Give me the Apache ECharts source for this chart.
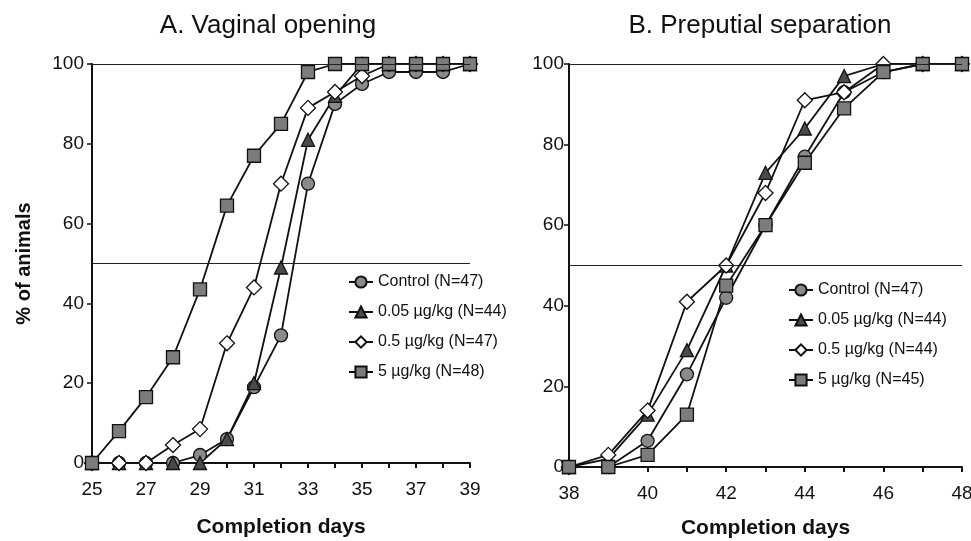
<!DOCTYPE html>
<html>
<head>
<meta charset="utf-8">
<script src="https://cdn.jsdelivr.net/npm/echarts@6/dist/echarts.min.js"></script>
<style>html,body{margin:0;padding:0;background:#fff}#c{width:971px;height:541px}</style>
</head>
<body>
<div id="c"></div>
<script>
// Panel A: Vaginal opening
var daysA = [25,26,27,28,29,30,31,32,33,34,35,36,37,38,39];
var ctrlA = [0,0,0,0,2,6,19,32,70,90,95,98,98,98,100];
var low005A = [0,0,0,0,0,6,20,49,81,92,100,100,100,100,100];
var mid05A = [0,0,0,4.5,8.5,30,44,70,89,93,97,100,100,100,100];
var high5A = [0,8,16.5,26.5,43.5,64.5,77,85,98,100,100,100,100,100,100];
var namesA = ["Control (N=47)","0.05 µg/kg (N=44)","0.5 µg/kg (N=47)","5 µg/kg (N=48)"];

// Panel B: Preputial separation
var daysB = [38,39,40,41,42,43,44,45,46,47,48];
var ctrlB = [0,0,6.5,23,42,60,77,93,98,100,100];
var low005B = [0,2,13,29,50,73,84,97,100,100,100];
var mid05B = [0,3,14,41,50,68,91,93,100,100,100];
var high5B = [0,0,3,13,45,60,75.5,89,98,100,100];
var namesB = ["Control (N=47)","0.05 µg/kg (N=44)","0.5 µg/kg (N=44)","5 µg/kg (N=45)"];

var yTicks = [0,20,40,60,80,100];
var titles = ["A. Vaginal opening","B. Preputial separation"];
var xName = "Completion days";
var yName = "% of animals";

var FONT = "Liberation Sans, Arial, sans-serif";
var styles = [
  {symbol:'circle', symbolSize:13, color:'#8a8a8a'},
  {symbol:'triangle', symbolSize:13, color:'#4a4a4a'},
  {symbol:'diamond', symbolSize:15, color:'#ffffff'},
  {symbol:'rect', symbolSize:13, color:'#7c7c7c'}
];
function pairs(xs, ys){ return xs.map(function(x,i){return [x, ys[i]];}); }
function mkSeries(name, xs, ys, st, idx, withRef){
  var s = {
    name: name, type:'line', xAxisIndex: idx, yAxisIndex: idx,
    data: pairs(xs, ys), symbol: st.symbol, symbolSize: st.symbolSize,
    showAllSymbol: true, animation:false,
    lineStyle:{color:'#111', width:1.8},
    itemStyle:{color: st.color, borderColor:'#111', borderWidth:1.3}
  };
  if (withRef) {
    s.markLine = {silent:true, symbol:['none','none'], animation:false,
      label:{show:false},
      lineStyle:{color:'#222', width:1.2, type:'solid'},
      data:[{yAxis:50},{yAxis:100}]};
  }
  return s;
}
var series = [];
[ctrlA, low005A, mid05A, high5A].forEach(function(d,i){ series.push(mkSeries(namesA[i], daysA, d, styles[i], 0, i===0)); });
[ctrlB, low005B, mid05B, high5B].forEach(function(d,i){ series.push(mkSeries(namesB[i], daysB, d, styles[i], 1, i===0)); });

function xAxis(idx, mn, mx, gap){
  return {type:'value', gridIndex: idx, min: mn, max: mx, interval:1,
    name: xName, nameLocation:'middle', nameGap: gap,
    nameTextStyle:{fontFamily:FONT, fontSize:21, fontWeight:'bold', color:'#111'},
    axisLine:{lineStyle:{color:'#111', width:2}},
    axisTick:{show:true, length:5, inside:false, lineStyle:{color:'#111', width:2}},
    splitLine:{show:false},
    axisLabel:{fontFamily:FONT, fontSize:19, color:'#111', margin:17,
      formatter:function(v){ return ((v - mn) % 2 === 0) ? String(v) : ''; }}
  };
}
function yAxis(idx, withName, margin){
  var a = {type:'value', gridIndex: idx, min: yTicks[0], max: yTicks[yTicks.length-1], interval: yTicks[1]-yTicks[0],
    axisLine:{show:true, lineStyle:{color:'#111', width:2}},
    axisTick:{show:true, length:5, lineStyle:{color:'#111', width:1.5}},
    splitLine:{show:false},
    axisLabel:{fontFamily:FONT, fontSize:19, color:'#111', margin: margin}
  };
  if (withName) {
    a.name = yName; a.nameLocation = 'middle'; a.nameGap = 58; a.nameRotate = 90;
    a.nameTextStyle = {fontFamily:FONT, fontSize:20, fontWeight:'bold', color:'#111'};
  }
  return a;
}

var chart = echarts.init(document.getElementById('c'), null, {renderer:'canvas'});
chart.setOption({
  backgroundColor:'#fff',
  animation:false,
  title:[
    {text: titles[0], left: 263, top: 8, textAlign:'center', textStyle:{fontFamily:FONT, fontSize:26, fontWeight:'normal', color:'#111'}},
    {text: titles[1], left: 755, top: 8, textAlign:'center', textStyle:{fontFamily:FONT, fontSize:26, fontWeight:'normal', color:'#111'}}
  ],
  grid:[
    {left:92, right:501, top:64, bottom:78, outerBoundsMode:'none'},
    {left:569, right:9, top:64, bottom:74, outerBoundsMode:'none'}
  ],
  xAxis:[ xAxis(0, daysA[0], daysA[daysA.length-1], 54), xAxis(1, daysB[0], daysB[daysB.length-1], 51) ],
  yAxis:[ yAxis(0, true, 8), yAxis(1, false, 5) ],
  legend:[
    {data: namesA, orient:'vertical', left:343, top:269, itemWidth:24, itemHeight:14, itemGap:14,
     textStyle:{fontFamily:FONT, fontSize:16, color:'#111'}},
    {data: namesB, orient:'vertical', left:783, top:277, itemWidth:24, itemHeight:14, itemGap:14,
     textStyle:{fontFamily:FONT, fontSize:16, color:'#111'}}
  ],
  series: series
});
</script>
</body>
</html>
